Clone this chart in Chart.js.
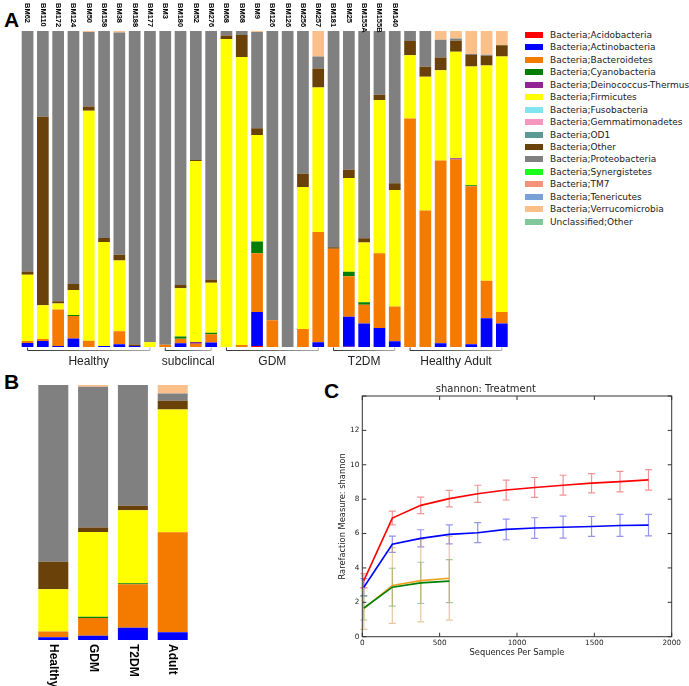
<!DOCTYPE html>
<html>
<head>
<meta charset="utf-8">
<script src="https://cdn.jsdelivr.net/npm/chart.js@4.4.1/dist/chart.umd.min.js"></script>
<style>
  body { margin: 0; background: #fff; width: 689px; height: 686px; overflow: hidden; position: relative; font-family: "Liberation Sans", Arial, sans-serif; }
  canvas { position: absolute; }
  .tag { position: absolute; font-weight: bold; font-size: 21px; line-height: 1; color: #000; }
  #legend { position: absolute; left: 525px; top: 28.8px; font-family: "DejaVu Sans", sans-serif; font-size: 9px; color: #222; }
  .row { height: 12.45px; display: flex; align-items: center; white-space: nowrap; }
  .box { width: 18px; height: 6px; margin-right: 7px; }
</style>
</head>
<body>
<div class="tag" style="left:4px;top:9px">A</div>
<div class="tag" style="left:4px;top:371px">B</div>
<div class="tag" style="left:324px;top:380px">C</div>
<canvas id="chartA" width="515" height="370" style="left:0;top:0"></canvas>
<canvas id="chartB" width="220" height="316" style="left:0;top:370px"></canvas>
<canvas id="chartC" width="389" height="300" style="left:300px;top:370px"></canvas>
<div id="legend"></div>
<script>
// taxa shown in the legend (stack order bottom -> top)
const taxa = ['Bacteria;Acidobacteria', 'Bacteria;Actinobacteria', 'Bacteria;Bacteroidetes', 'Bacteria;Cyanobacteria',
  'Bacteria;Deinococcus-Thermus', 'Bacteria;Firmicutes', 'Bacteria;Fusobacteria', 'Bacteria;Gemmatimonadetes',
  'Bacteria;OD1', 'Bacteria;Other', 'Bacteria;Proteobacteria', 'Bacteria;Synergistetes', 'Bacteria;TM7',
  'Bacteria;Tenericutes', 'Bacteria;Verrucomicrobia', 'Unclassified;Other'];
const taxaColors = ['#ff0000', '#0000ff', '#f47a00', '#007f00', '#912591', '#ffff00', '#80e5f0', '#f598c0',
  '#5c9b95', '#6a4109', '#808080', '#1aff1a', '#f4937a', '#7aa0d8', '#fbc08a', '#80c89a'];

// panel A: per sample relative abundance (%)
const samples = ['BM62', 'BM110', 'BM172', 'BM124', 'BM50', 'BM158', 'BM38', 'BM188', 'BM177', 'BM3', 'BM180', 'BM52',
  'BM276', 'BM68', 'BM68', 'BM9', 'BM126', 'BM126', 'BM256', 'BM257', 'BM181', 'BM25', 'BM155A', 'BM155B', 'BM140',
  '', '', '', '', '', '', ''];
const acidoA   = [0, 0, 0, 0, 0, 0, 0, 0, 0, 0, 0, 0, 0, 0, 0, 0.3, 0, 0, 0, 0, 0, 0.1, 0, 0, 0, 0, 0, 0, 0, 0, 0, 0];
const actinoA  = [1.3, 1.9, 0.3, 2.7, 0, 0.3, 0.9, 0.3, 0, 0, 1.2, 0, 1.4, 0, 0, 10.8, 0, 0, 0, 1.5, 0, 9.5, 7.4, 6, 1.8, 0, 0, 1.2, 0, 0.9, 9.1, 7.4];
const bacteroA = [0.6, 0.6, 11.6, 7.1, 2, 0, 4.1, 0, 0, 0.7, 1.4, 1, 2.6, 0, 0.6, 18.6, 8.5, 0, 5.7, 34.9, 31.1, 12.8, 6, 23.7, 11, 72.3, 43.2, 57.8, 59.3, 50, 11.9, 3.7];
const cyanoA   = [0, 0, 0, 0.3, 0, 0, 0, 0, 0, 0, 0.7, 0, 0.5, 0, 0, 3.7, 0, 0, 0, 0, 0, 1.4, 0.8, 0, 0, 0, 0, 0, 0, 0.3, 0, 0];
const deinoA   = [0, 0, 0, 0, 0, 0, 0, 0, 0, 0, 0, 0.6, 0, 0, 0, 0, 0, 0, 0, 0, 0, 0, 0, 0, 0, 0, 0, 0, 0.4, 0, 0, 0];
const firmiA   = [21, 10.7, 1.9, 7.9, 72.8, 32.9, 22.4, 0, 1.5, 0, 15.3, 57.3, 15.8, 97.5, 91.2, 33.7, 0, 0, 44.9, 45.7, 0, 29.7, 18.9, 48.5, 36.9, 20, 42.3, 28.6, 33.7, 37.6, 68.1, 80.8];
const otherA   = [1, 59.7, 0.7, 1.9, 1.3, 1.3, 1.8, 0.5, 0, 0, 1, 0.3, 1.1, 1.1, 6.9, 2.1, 0, 0, 4.2, 6, 0.5, 2.6, 1.3, 1.6, 2.1, 4.5, 3.2, 4, 3.5, 3.6, 3.1, 3.6];
const proteoA  = [76.1, 27.1, 85.5, 80.1, 23.6, 65.5, 70.3, 99.2, 98.5, 99.3, 80.4, 40.8, 78.6, 1.4, 1.3, 30.5, 91.5, 100, 45.2, 3.8, 68.4, 43.9, 65.6, 20.2, 48.2, 3.2, 11.3, 5.6, 0.7, 0.3, 0.3, 0];
const verrucoA = [0, 0, 0, 0, 0.3, 0, 0.5, 0, 0, 0, 0, 0, 0, 0, 0, 0.3, 0, 0, 0, 8.1, 0, 0, 0, 0, 0, 0, 0, 2.8, 2.4, 7.3, 7.5, 4.5];
const seriesA = [acidoA, actinoA, bacteroA, cyanoA, deinoA, firmiA, null, null, null, otherA, proteoA, null, null, null, verrucoA, null];

const groupNames = ['Healthy', 'subclincal', 'GDM', 'T2DM', 'Healthy Adult'];
const groupFirst = [0, 9, 13, 20, 25];
const groupLast  = [8, 12, 19, 24, 31];

// panel B: pooled by group (%)
const groupsB  = ['Healthy', 'GDM', 'T2DM', 'Adult'];
const actinoB  = [1.1, 1.7, 4.8, 3];
const bacteroB = [2.2, 6.9, 17.1, 39.3];
const cyanoB   = [0, 0.5, 0.4, 0];
const firmiB   = [16.6, 33.3, 28.6, 48.1];
const otherB   = [10.8, 1.7, 1.7, 3.4];
const proteoB  = [69.3, 55.2, 47.4, 2.9];
const verrucoB = [0, 0.7, 0, 3.3];
const seriesB = [null, actinoB, bacteroB, cyanoB, null, firmiB, null, null, null, otherB, proteoB, null, null, null, verrucoB, null];

// panel C: shannon rarefaction
const seqDepth = [10, 194, 378, 562, 746, 930, 1114, 1298, 1482, 1666, 1850];
const shannonRed    = [3.26, 6.9, 7.64, 8.03, 8.31, 8.53, 8.68, 8.81, 8.93, 9.02, 9.12];
const shannonRedErr = [0.4, 0.4, 0.48, 0.48, 0.5, 0.58, 0.58, 0.58, 0.56, 0.6, 0.6];
const shannonBlue    = [2.88, 5.38, 5.72, 5.95, 6.05, 6.24, 6.32, 6.37, 6.41, 6.47, 6.49];
const shannonBlueErr = [0.5, 0.47, 0.5, 0.55, 0.58, 0.6, 0.6, 0.64, 0.58, 0.64, 0.62];
const shannonGreen    = [1.67, 2.88, 3.13, 3.23];
const shannonGreenErr = [0.7, 1.1, 1.2, 1.25];
const shannonOrange    = [1.63, 2.98, 3.26, 3.4];
const shannonOrangeErr = [1.2, 2.2, 2.4, 2.44];

// legend
const legend = document.getElementById('legend');
taxa.forEach((t, i) => {
  const row = document.createElement('div');
  row.className = 'row';
  row.innerHTML = '<div class="box" style="background:' + taxaColors[i] + '"></div><span>' + t + '</span>';
  legend.appendChild(row);
});

function stackSets(series) {
  const out = [];
  series.forEach((d, i) => {
    if (d) out.push({ label: taxa[i], data: d, backgroundColor: taxaColors[i], borderWidth: 0 });
  });
  return out;
}

const panelAExtras = {
  id: 'panelAExtras',
  afterDraw(chart) {
    const ctx = chart.ctx, x = chart.scales.x, y = chart.scales.y;
    const base = y.getPixelForValue(0);
    ctx.save();
    ctx.font = 'bold 7.5px "Liberation Sans"';
    ctx.fillStyle = '#000';
    ctx.textAlign = 'left';
    ctx.textBaseline = 'middle';
    samples.forEach((s, i) => {
      if (!s) return;
      ctx.save();
      ctx.translate(x.getPixelForValue(i), 3);
      ctx.rotate(Math.PI / 2);
      ctx.fillText(s, 0, 0);
      ctx.restore();
    });
    groupNames.forEach((g, k) => {
      const x0 = x.getPixelForValue(groupFirst[k]), x1 = x.getPixelForValue(groupLast[k]);
      const grad = ctx.createLinearGradient(x0, 0, x1, 0);
      grad.addColorStop(0, '#333');
      grad.addColorStop(1, '#aaa');
      ctx.strokeStyle = grad;
      ctx.lineWidth = 1;
      ctx.beginPath();
      ctx.moveTo(x0, base + 0.5);
      ctx.lineTo(x0, base + 3.5);
      ctx.lineTo(x1, base + 3.5);
      ctx.lineTo(x1, base + 0.5);
      ctx.stroke();
      ctx.font = '12px "Liberation Sans"';
      ctx.fillStyle = '#222';
      ctx.textAlign = 'center';
      ctx.textBaseline = 'alphabetic';
      ctx.fillText(g, (x0 + x1) / 2, base + 17.5);
    });
    ctx.restore();
  }
};

new Chart(document.getElementById('chartA'), {
  type: 'bar',
  data: { labels: samples, datasets: stackSets(seriesA) },
  options: {
    responsive: false,
    animation: false,
    layout: { padding: { left: 19.9, right: 5.5, top: 31, bottom: 23 } },
    datasets: { bar: { barPercentage: 0.765, categoryPercentage: 1 } },
    plugins: { legend: { display: false }, tooltip: { enabled: false } },
    scales: {
      x: { stacked: true, display: false },
      y: { stacked: true, display: false, min: 0, max: 100 }
    }
  },
  plugins: [panelAExtras]
});

const panelBLabels = {
  id: 'panelBLabels',
  afterDraw(chart) {
    const ctx = chart.ctx, x = chart.scales.x, y = chart.scales.y;
    const base = y.getPixelForValue(0);
    ctx.save();
    ctx.font = 'bold 12px "Liberation Sans"';
    ctx.fillStyle = '#000';
    ctx.textAlign = 'left';
    ctx.textBaseline = 'middle';
    groupsB.forEach((g, i) => {
      ctx.save();
      ctx.translate(x.getPixelForValue(i), base + 4);
      ctx.rotate(Math.PI / 2);
      ctx.fillText(g, 0, 0);
      ctx.restore();
    });
    ctx.restore();
  }
};

new Chart(document.getElementById('chartB'), {
  type: 'bar',
  data: { labels: groupsB, datasets: stackSets(seriesB) },
  options: {
    responsive: false,
    animation: false,
    layout: { padding: { left: 33.4, right: 27.4, top: 15, bottom: 46 } },
    datasets: { bar: { barPercentage: 0.754, categoryPercentage: 1 } },
    plugins: { legend: { display: false }, tooltip: { enabled: false } },
    scales: {
      x: { stacked: true, display: false },
      y: { stacked: true, display: false, min: 0, max: 100 }
    }
  },
  plugins: [panelBLabels]
});

function curve(ys, errs, color, errColor) {
  return {
    data: ys.map((v, i) => ({ x: seqDepth[i], y: v })),
    errors: errs,
    errColor: errColor,
    borderColor: color,
    borderWidth: 1.6,
    pointRadius: 0,
    tension: 0,
    fill: false
  };
}

const errorBars = {
  id: 'errorBars',
  beforeDatasetsDraw(chart) {
    const ctx = chart.ctx, x = chart.scales.x, y = chart.scales.y;
    ctx.save();
    ctx.lineWidth = 1.2;
    chart.data.datasets.forEach(ds => {
      ctx.strokeStyle = ds.errColor;
      ds.data.forEach((p, i) => {
        const px = x.getPixelForValue(p.x);
        const lo = y.getPixelForValue(p.y - ds.errors[i]);
        const hi = y.getPixelForValue(p.y + ds.errors[i]);
        ctx.beginPath();
        ctx.moveTo(px, lo); ctx.lineTo(px, hi);
        ctx.moveTo(px - 3.5, lo); ctx.lineTo(px + 3.5, lo);
        ctx.moveTo(px - 3.5, hi); ctx.lineTo(px + 3.5, hi);
        ctx.stroke();
      });
    });
    ctx.restore();
  },
  afterDraw(chart) {
    const ctx = chart.ctx, a = chart.chartArea, x = chart.scales.x, y = chart.scales.y;
    ctx.save();
    ctx.strokeStyle = '#333';
    ctx.lineWidth = 1;
    ctx.strokeRect(a.left, a.top, a.right - a.left, a.bottom - a.top);
    ctx.beginPath();
    x.ticks.forEach(t => {
      const px = x.getPixelForValue(t.value);
      ctx.moveTo(px, a.bottom); ctx.lineTo(px, a.bottom - 4);
      ctx.moveTo(px, a.top); ctx.lineTo(px, a.top + 4);
    });
    y.ticks.forEach(t => {
      const py = y.getPixelForValue(t.value);
      ctx.moveTo(a.left, py); ctx.lineTo(a.left + 4, py);
      ctx.moveTo(a.right, py); ctx.lineTo(a.right - 4, py);
    });
    ctx.stroke();
    ctx.restore();
  }
};

const axisFont = { family: 'DejaVu Sans', size: 7.3 };
new Chart(document.getElementById('chartC'), {
  type: 'line',
  data: {
    datasets: [
      curve(shannonRed, shannonRedErr, '#ff0000', 'rgba(230,60,60,0.55)'),
      curve(shannonBlue, shannonBlueErr, '#0000ff', 'rgba(60,60,230,0.55)'),
      curve(shannonGreen, shannonGreenErr, '#008000', 'rgba(40,140,40,0.45)'),
      curve(shannonOrange, shannonOrangeErr, '#f0a020', 'rgba(215,160,90,0.6)')
    ]
  },
  options: {
    responsive: false,
    animation: false,
    layout: { padding: { left: 0, right: 17.3, top: 0, bottom: 0 } },
    plugins: {
      legend: { display: false },
      tooltip: { enabled: false },
      title: {
        display: true, text: 'shannon: Treatment', color: '#222',
        font: { family: 'DejaVu Sans', size: 10, weight: 'normal' },
        padding: { top: 13, bottom: 1 }
      }
    },
    scales: {
      x: {
        type: 'linear', min: 0, max: 2000,
        grid: { display: false, drawTicks: false }, border: { display: false },
        ticks: { stepSize: 500, font: axisFont, color: '#222', padding: 2, maxRotation: 0, callback: v => String(v) },
        title: { display: true, text: 'Sequences Per Sample', color: '#222', font: { family: 'DejaVu Sans', size: 8.3 }, padding: { top: 0, bottom: 12.3 } },
        afterFit(s) { s.height = 33.3; }
      },
      y: {
        min: 0, max: 14,
        grid: { display: false, drawTicks: false }, border: { display: false },
        ticks: { stepSize: 2, font: axisFont, color: '#222', padding: 3, callback: v => (v >= 14 ? '' : String(v)) },
        title: { display: true, text: 'Rarefaction Measure: shannon', color: '#222', font: { family: 'DejaVu Sans', size: 8.3 }, padding: { top: 37.7, bottom: 0 } },
        afterFit(s) { s.width = 62.3; }
      }
    }
  },
  plugins: [errorBars]
});
</script>
</body>
</html>
